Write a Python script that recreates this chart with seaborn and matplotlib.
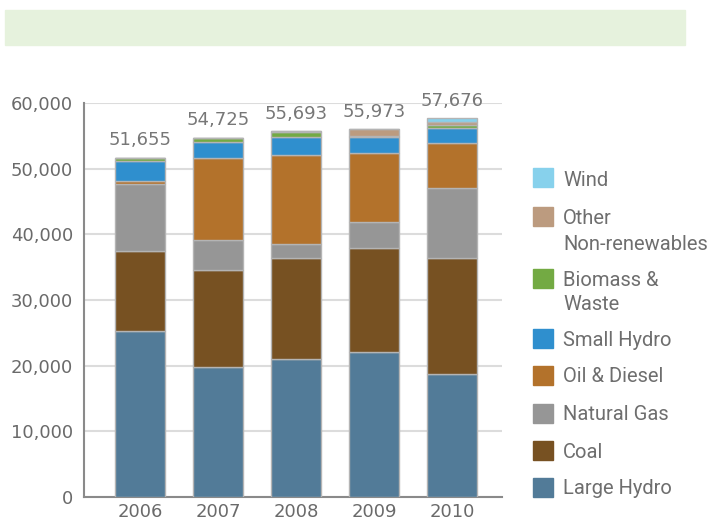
import numpy as np
import pandas as pd
import seaborn as sns
import matplotlib
matplotlib.use("Agg")
import matplotlib.pyplot as plt
from matplotlib.patches import Rectangle

years = ["2006", "2007", "2008", "2009", "2010"]
totals = [51655, 54725, 55693, 55973, 57676]

categories = ["Large Hydro", "Coal", "Natural Gas", "Oil & Diesel", "Small Hydro",
              "Biomass &\nWaste", "Other\nNon-renewables", "Wind"]
large_hydro = [25300, 19850, 21050, 22150, 18750]
coal = [12100, 14700, 15300, 15750, 17600]
natural_gas = [10250, 4550, 2150, 4000, 10750]
oil_diesel = [500, 12450, 13600, 10450, 6850]
small_hydro = [3000, 2450, 2750, 2520, 2200]
biomass = [450, 680, 800, 100, 550]
other_nonren = [55, 45, 43, 1003, 450]
wind = [0, 0, 0, 0, 526]

colors = ["#527b98", "#775122", "#969696", "#b3722b", "#2f8fce",
          "#73aa43", "#bc9b7f", "#87d1ec"]

series = [large_hydro, coal, natural_gas, oil_diesel, small_hydro, biomass, other_nonren, wind]

sns.set_theme(style="white")
plt.rcParams["font.family"] = ["DejaVu Sans"]

W, H = 713, 523
fig = plt.figure(figsize=(W / 100, H / 100), dpi=100)
ax = fig.add_axes([84 / W, 1 - 497 / H, (502 - 84) / W, (497 - 103) / H])

df = pd.DataFrame({"year": years})
bottom = np.zeros(len(years))
for name, vals, col in zip(categories, series, colors):
    df[name] = vals
    sns.barplot(data=df, x="year", y=name, bottom=bottom, color=col, width=0.64,
                edgecolor="#b4b4b4", linewidth=1.0, saturation=1, ax=ax, zorder=3)
    bottom = bottom + np.array(vals)

for i, t in enumerate(totals):
    ax.annotate(f"{t:,}", (i, t), xytext=(0, 6), textcoords="offset points",
                ha="center", va="bottom", fontsize=13, color="#777777")

ax.set_xlim(-0.72, 4.64)
ax.set_ylim(0, 60000)
ax.set_yticks(range(0, 60001, 10000))
ax.yaxis.set_major_formatter(matplotlib.ticker.FuncFormatter(lambda v, p: f"{int(v):,}"))
ax.set_xlabel("")
ax.set_ylabel("")
ax.grid(axis="y", color="#dcdcdc", linewidth=1.5, zorder=0)
ax.set_axisbelow(True)
for s in ["top", "right"]:
    ax.spines[s].set_visible(False)
for s in ["left", "bottom"]:
    ax.spines[s].set_color("#8a8a8a")
    ax.spines[s].set_linewidth(1.5)
ax.tick_params(axis="both", length=0, labelsize=13, labelcolor="#6a6a6a")
ax.tick_params(axis="y", pad=8)
ax.tick_params(axis="x", pad=4)

# top banner
fig.patches.append(Rectangle((5 / W, 1 - 45 / H), 680 / W, 35 / H,
                             transform=fig.transFigure, color="#e6f2dd", zorder=0))

# legend (top to bottom)
leg_order = list(range(len(categories)))[::-1]
centers = [178, 217, 278, 338, 375, 413, 450, 487]
for idx, cy in zip(leg_order, centers):
    fig.patches.append(Rectangle((533 / W, 1 - (cy + 9.5) / H), 20 / W, 19 / H,
                                 transform=fig.transFigure, color=colors[idx]))
    for j, line in enumerate(categories[idx].split("\n")):
        fig.text(563 / W, 1 - (cy + j * 25) / H, line, fontsize=14.5, family="Roboto",
                 color="#6e6e6e", ha="left", va="center_baseline")

fig.savefig("out.png", dpi=100)
